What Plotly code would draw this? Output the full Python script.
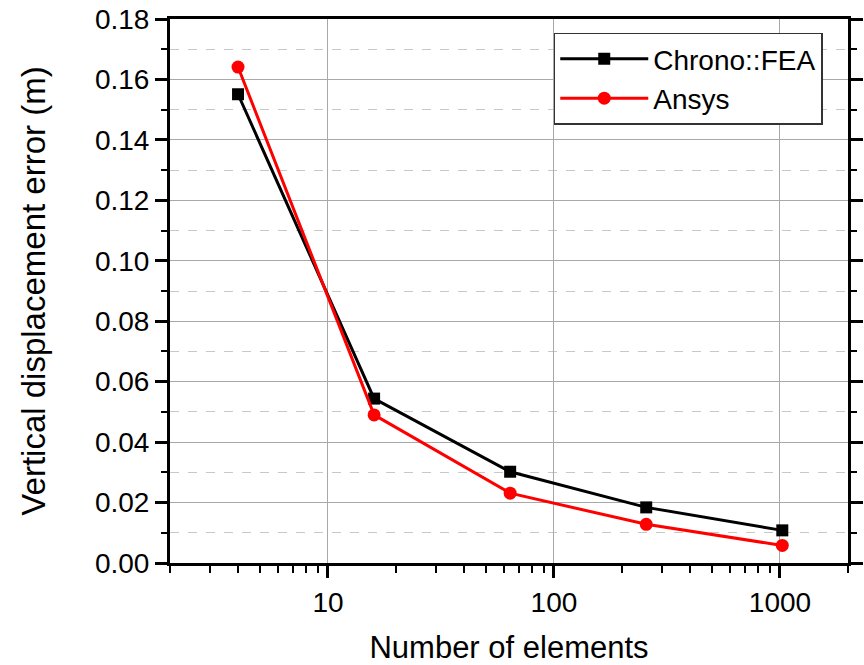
import plotly.graph_objects as go

# Mesh refinement study: number of elements vs. vertical displacement error
n_elements = [4, 16, 64, 256, 1024]
chrono_error = [0.1551, 0.0544, 0.0302, 0.0184, 0.0108]
ansys_error = [0.1641, 0.0490, 0.0231, 0.0128, 0.0058]

x_tick_vals = [10, 100, 1000]
x_tick_text = ["10", "100", "1000"]
x_minor_vals = [2, 3, 4, 5, 6, 7, 8, 9,
                20, 30, 40, 50, 60, 70, 80, 90,
                200, 300, 400, 500, 600, 700, 800, 900, 2000]

FONT = "Liberation Sans, Arial, sans-serif"

fig = go.Figure()
fig.add_trace(go.Scatter(
    x=n_elements, y=chrono_error, name="Chrono::FEA",
    mode="lines+markers",
    line=dict(color="black", width=3),
    marker=dict(symbol="square", size=12, color="black"),
))
fig.add_trace(go.Scatter(
    x=n_elements, y=ansys_error, name="Ansys",
    mode="lines+markers",
    line=dict(color="#ff0000", width=3),
    marker=dict(symbol="circle", size=13, color="#ff0000"),
))

fig.update_layout(
    width=864, height=665,
    margin=dict(l=170, r=16, t=19, b=102),
    paper_bgcolor="white", plot_bgcolor="white",
    font=dict(family=FONT, color="black"),
    showlegend=True,
    legend=dict(
        x=0.566, y=0.975, xanchor="left", yanchor="top",
        bgcolor="white", bordercolor="#333333", borderwidth=1.5,
        font=dict(size=28, family=FONT, color="black"),
        itemwidth=88, tracegroupgap=0,
    ),
)

fig.update_xaxes(
    type="log", range=[0.30103, 3.30103], automargin=False,
    tickvals=x_tick_vals, ticktext=x_tick_text,
    ticks="outside", ticklen=12, tickwidth=2.5, tickcolor="black",
    showline=True, linecolor="black", linewidth=3, mirror=True,
    showgrid=True, gridcolor="#a8a8a8", gridwidth=1,
    zeroline=False,
    tickfont=dict(size=28, family=FONT),
    minor=dict(tickvals=x_minor_vals, ticks="outside", ticklen=7,
               tickwidth=2, tickcolor="black", showgrid=False),
    title=dict(text="Number of elements", font=dict(size=31, family=FONT),
               standoff=30),
)

fig.update_yaxes(
    range=[0, 0.18], dtick=0.02, tick0=0, tickformat=".2f", automargin=False,
    ticks="outside", ticklen=12, tickwidth=2.5, tickcolor="black",
    showline=True, linecolor="black", linewidth=3, mirror="ticks",
    showgrid=True, gridcolor="#a8a8a8", gridwidth=1,
    zeroline=False,
    tickfont=dict(size=28, family=FONT),
    minor=dict(dtick=0.01, tick0=0, ticks="outside", ticklen=6,
               tickwidth=2, tickcolor="black",
               showgrid=True, gridcolor="#c8c8c8", griddash="dash", gridwidth=1),
    title=dict(text="Vertical displacement error (m)",
               font=dict(size=33, family=FONT), standoff=40),
)

fig.write_html("out.html")
